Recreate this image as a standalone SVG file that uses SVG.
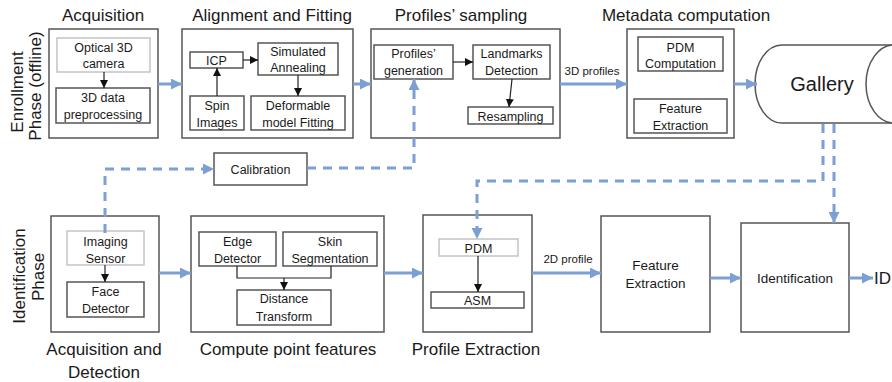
<svg xmlns="http://www.w3.org/2000/svg" width="892" height="382" viewBox="0 0 892 382">
<defs>
<style>
text{font-family:"Liberation Sans",Arial,sans-serif;fill:#1a1a1a;text-anchor:middle}
.t{font-size:17px}
.s{font-size:12.5px}
.m{font-size:13.5px}
.l{font-size:11.5px}
.box{fill:#fff;stroke:#555;stroke-width:1.5}
.lbox{fill:#fff;stroke:#c4c4c4;stroke-width:1.5}
.blue{fill:none;stroke:#7ca0d2;stroke-width:3}
.dash{fill:none;stroke:#7ca0d2;stroke-width:3;stroke-dasharray:9 7}
.blk{fill:none;stroke:#222;stroke-width:1.2}
</style>
<marker id="ab" markerUnits="userSpaceOnUse" markerWidth="11" markerHeight="11" refX="11" refY="5.5" orient="auto"><path d="M0,0 L11,5.5 L0,11 z" fill="#7ca0d2"/></marker>
<marker id="ak" markerUnits="userSpaceOnUse" markerWidth="8" markerHeight="8" refX="8" refY="4" orient="auto"><path d="M0,0 L8,4 L0,8 z" fill="#111"/></marker>
</defs>

<g id="phase-labels">
<text class="t" transform="translate(23,92) rotate(-90)">Enrollment</text>
<text class="t" transform="translate(41,86) rotate(-90)">Phase (offline)</text>
<text class="t" transform="translate(25,276) rotate(-90)">Identification</text>
<text class="t" transform="translate(44,277) rotate(-90)">Phase</text>
</g>

<g id="titles">
<text class="t" x="103" y="21">Acquisition</text>
<text class="t" x="272" y="21">Alignment and Fitting</text>
<text class="t" x="461" y="21">Profiles’ sampling</text>
<text class="t" x="686" y="21">Metadata computation</text>
<text class="t" x="104" y="355">Acquisition and</text>
<text class="t" x="104" y="378">Detection</text>
<text class="t" x="288" y="355">Compute point features</text>
<text class="t" x="476" y="355">Profile Extraction</text>
</g>

<g id="acquisition">
<rect class="box" x="49" y="29" width="109" height="109"/>
<rect class="lbox" x="57" y="38" width="93" height="34"/>
<text class="s" x="103.5" y="51.5">Optical 3D</text>
<text class="s" x="103.5" y="67.5">camera</text>
<rect class="box" x="56" y="88" width="94" height="35"/>
<text class="s" x="103" y="101.5">3D data</text>
<text class="s" x="103" y="118.5">preprocessing</text>
</g>

<g id="alignment">
<rect class="box" x="182" y="29" width="171" height="109"/>
<rect class="box" x="190" y="52" width="53" height="16"/>
<text class="s" x="216.5" y="64.5">ICP</text>
<rect class="box" x="258" y="43" width="80" height="32"/>
<text class="s" x="298" y="56">Simulated</text>
<text class="s" x="298" y="72">Annealing</text>
<rect class="box" x="190" y="96" width="54" height="34"/>
<text class="s" x="217" y="109.5">Spin</text>
<text class="s" x="217" y="126.5">Images</text>
<rect class="box" x="251" y="96" width="94" height="34"/>
<text class="s" x="298" y="109.5">Deformable</text>
<text class="s" x="298" y="126.5">model Fitting</text>
</g>

<g id="profiles-sampling">
<rect class="box" x="371" y="29" width="189" height="109"/>
<rect class="box" x="374" y="45" width="79" height="34"/>
<text class="s" x="413.5" y="57.5">Profiles’</text>
<text class="s" x="413.5" y="75">generation</text>
<rect class="box" x="473" y="45" width="77" height="34"/>
<text class="s" x="511.5" y="57.5">Landmarks</text>
<text class="s" x="511.5" y="75">Detection</text>
<rect class="box" x="468" y="107" width="85" height="17"/>
<text class="s" x="510.5" y="120.5">Resampling</text>
</g>

<g id="metadata">
<rect class="box" x="627" y="29" width="107" height="109"/>
<rect class="box" x="638" y="37" width="85" height="34"/>
<text class="s" x="680.5" y="51.5">PDM</text>
<text class="s" x="680.5" y="67.5">Computation</text>
<rect class="box" x="634" y="99" width="93" height="34"/>
<text class="s" x="680.5" y="112.5">Feature</text>
<text class="s" x="680.5" y="129.5">Extraction</text>
</g>

<g id="gallery">
<path class="box" d="M900,45 L782,45 A27,39 0 0 0 782,123 L900,123"/>
<ellipse class="box" cx="894" cy="84" rx="28" ry="39"/>
<text x="822" y="91" style="font-size:20px">Gallery</text>
</g>

<g id="calibration">
<rect class="box" x="214" y="153" width="93" height="32"/>
<text class="s" x="260.5" y="174">Calibration</text>
</g>

<g id="acq-detection">
<rect class="box" x="51" y="216" width="108" height="116"/>
<rect class="lbox" x="67" y="231" width="77" height="34"/>
<text class="s" x="105.5" y="245.5">Imaging</text>
<text class="s" x="105.5" y="262.5">Sensor</text>
<rect class="box" x="67" y="282" width="77" height="35"/>
<text class="s" x="105.5" y="295.5">Face</text>
<text class="s" x="105.5" y="312.5">Detector</text>
</g>

<g id="compute-features">
<rect class="box" x="191" y="216" width="193" height="116"/>
<rect class="box" x="199" y="232" width="77" height="34"/>
<text class="s" x="237.5" y="245.5">Edge</text>
<text class="s" x="237.5" y="262.5">Detector</text>
<rect class="box" x="283" y="232" width="94" height="34"/>
<text class="s" x="330" y="245.5">Skin</text>
<text class="s" x="330" y="262.5">Segmentation</text>
<rect class="box" x="237" y="290" width="94" height="35"/>
<text class="s" x="284" y="302.5">Distance</text>
<text class="s" x="284" y="320.5">Transform</text>
</g>

<g id="profile-extraction">
<rect class="box" x="423" y="215" width="109" height="117"/>
<rect class="lbox" x="439" y="239" width="79" height="17"/>
<text class="s" x="478.5" y="252.5">PDM</text>
<rect class="box" x="431" y="292" width="93" height="16"/>
<text class="s" x="477.5" y="304.5">ASM</text>
</g>

<g id="feature-extraction">
<rect class="box" x="601" y="216" width="109" height="116"/>
<text class="m" x="655.5" y="270">Feature</text>
<text class="m" x="655.5" y="288">Extraction</text>
</g>

<g id="identification">
<rect class="box" x="741" y="223" width="108" height="109"/>
<text class="m" x="795" y="283">Identification</text>
</g>

<g id="id-output">
<text x="874" y="284" style="font-size:17px;text-anchor:start">ID</text>
</g>

<g id="connectors">
<line class="blk" x1="104" y1="72" x2="104" y2="88" marker-end="url(#ak)"/>
<line class="blk" x1="217" y1="96" x2="217" y2="68" marker-end="url(#ak)"/>
<line class="blk" x1="243" y1="60" x2="258" y2="60" marker-end="url(#ak)"/>
<line class="blk" x1="298" y1="75" x2="298" y2="96" marker-end="url(#ak)"/>
<line class="blk" x1="453" y1="62" x2="473" y2="62" marker-end="url(#ak)"/>
<line class="blk" x1="512" y1="79" x2="509" y2="107" marker-end="url(#ak)"/>
<line class="blk" x1="105" y1="265" x2="105" y2="282" marker-end="url(#ak)"/>
<polyline class="blk" points="237,266 237,278 331,278 331,266"/>
<line class="blk" x1="284" y1="278" x2="284" y2="290" marker-end="url(#ak)"/>
<line class="blk" x1="478" y1="256" x2="478" y2="292" marker-end="url(#ak)"/>

<line class="blue" x1="158" y1="84" x2="182" y2="84" marker-end="url(#ab)"/>
<line class="blue" x1="353" y1="84" x2="371" y2="84" marker-end="url(#ab)"/>
<line class="blue" x1="560" y1="84" x2="627" y2="84" marker-end="url(#ab)"/>
<text class="l" x="592" y="75">3D profiles</text>
<line class="blue" x1="734" y1="84" x2="757" y2="84" marker-end="url(#ab)"/>
<line class="blue" x1="159" y1="273" x2="191" y2="273" marker-end="url(#ab)"/>
<line class="blue" x1="384" y1="273" x2="423" y2="273" marker-end="url(#ab)"/>
<line class="blue" x1="532" y1="273" x2="601" y2="273" marker-end="url(#ab)"/>
<text class="l" x="568" y="263">2D profile</text>
<line class="blue" x1="710" y1="278" x2="741" y2="278" marker-end="url(#ab)"/>
<line class="blue" x1="849" y1="278" x2="873" y2="278" marker-end="url(#ab)"/>

<polyline class="dash" points="105,233 105,169 214,169" marker-end="url(#ab)"/>
<polyline class="dash" points="307,168 414,168 414,79" marker-end="url(#ab)"/>
<polyline class="dash" points="823,124 823,181 477,181 477,239" marker-end="url(#ab)"/>
<polyline class="dash" points="834,124 834,223" marker-end="url(#ab)"/>
</g>
</svg>
